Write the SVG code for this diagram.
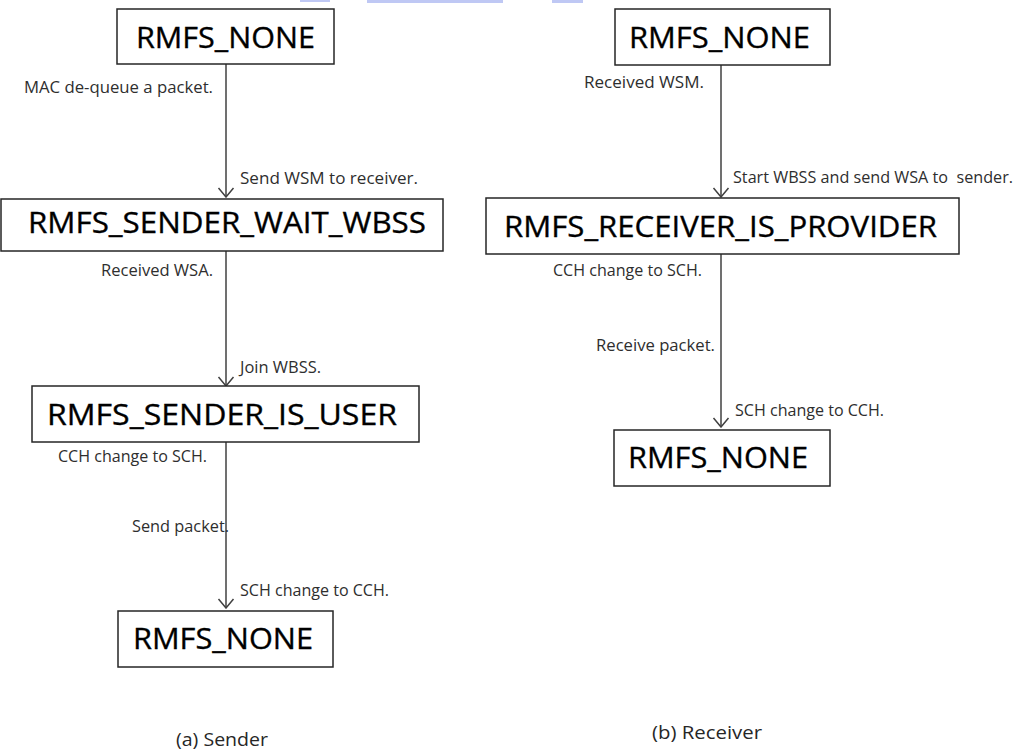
<svg xmlns="http://www.w3.org/2000/svg" width="1033" height="755" viewBox="0 0 1033 755">
  <defs>
    <style>
      .box { fill: #ffffff; stroke: #262626; stroke-width: 1.5; }
      .state { font-family: "Open Sans", "Noto Sans", sans-serif; font-size: 30px; fill: #000000; stroke: #000000; stroke-width: 0.35; }
      .edge { stroke: #404040; stroke-width: 1.5; fill: none; }
      .lbl { font-family: "Open Sans", "Noto Sans", sans-serif; font-size: 16px; fill: #2e2e2e; }
      .cap { font-family: "Open Sans", "Noto Sans", sans-serif; font-size: 19px; fill: #262626; }
      .smear { fill: #aab6f0; opacity: 0.75; }
    </style>
    <!-- open V arrowhead, pointing along the line -->
    <marker id="vhead" viewBox="0 0 20 20" refX="19" refY="10" markerWidth="20" markerHeight="20" markerUnits="userSpaceOnUse" orient="auto">
      <path d="M10 2.5 L19 10 L10 17.5" fill="none" stroke="#404040" stroke-width="1.5"/>
    </marker>
  </defs>
  <rect width="1033" height="755" fill="#ffffff"/>

  <!-- faint band along the top edge -->
  <g id="top-band">
    <rect class="smear" x="300" y="0" width="30" height="2"/>
    <rect class="smear" x="367" y="0" width="136" height="3"/>
    <rect class="smear" x="552" y="0" width="31" height="3"/>
  </g>

  <!-- transitions -->
  <g id="connectors">
    <line class="edge" x1="226" y1="64" x2="226" y2="197" marker-end="url(#vhead)"/>
    <line class="edge" x1="226" y1="251" x2="226" y2="386" marker-end="url(#vhead)"/>
    <line class="edge" x1="226" y1="442" x2="226" y2="608" marker-end="url(#vhead)"/>
    <line class="edge" x1="721" y1="65" x2="721" y2="197" marker-end="url(#vhead)"/>
    <line class="edge" x1="721" y1="254" x2="721" y2="427" marker-end="url(#vhead)"/>
  </g>

  <!-- sender states -->
  <g id="s-none-top">
    <rect class="box" x="117" y="9" width="217" height="55"/>
    <text class="state" x="136" y="48" textLength="179" lengthAdjust="spacingAndGlyphs">RMFS_NONE</text>
  </g>
  <g id="s-wait-wbss">
    <rect class="box" x="1" y="199" width="442" height="52"/>
    <text class="state" x="28" y="233" textLength="398" lengthAdjust="spacingAndGlyphs">RMFS_SENDER_WAIT_WBSS</text>
  </g>
  <g id="s-is-user">
    <rect class="box" x="32" y="386" width="387" height="56"/>
    <text class="state" x="47" y="425" textLength="350" lengthAdjust="spacingAndGlyphs">RMFS_SENDER_IS_USER</text>
  </g>
  <g id="s-none-bottom">
    <rect class="box" x="118" y="611" width="215" height="56"/>
    <text class="state" x="133" y="649" textLength="180" lengthAdjust="spacingAndGlyphs">RMFS_NONE</text>
  </g>

  <!-- receiver states -->
  <g id="r-none-top">
    <rect class="box" x="615" y="9" width="215" height="56"/>
    <text class="state" x="629" y="48" textLength="181" lengthAdjust="spacingAndGlyphs">RMFS_NONE</text>
  </g>
  <g id="r-is-provider">
    <rect class="box" x="486" y="198" width="473" height="56"/>
    <text class="state" x="504" y="237" textLength="433" lengthAdjust="spacingAndGlyphs">RMFS_RECEIVER_IS_PROVIDER</text>
  </g>
  <g id="r-none-bottom">
    <rect class="box" x="614" y="430" width="216" height="56"/>
    <text class="state" x="628" y="468" textLength="180" lengthAdjust="spacingAndGlyphs">RMFS_NONE</text>
  </g>

  <!-- transition labels -->
  <g id="labels">
    <text class="lbl" x="24" y="93" textLength="189" lengthAdjust="spacingAndGlyphs">MAC de-queue a packet.</text>
    <text class="lbl" x="240" y="184" textLength="178" lengthAdjust="spacingAndGlyphs">Send WSM to receiver.</text>
    <text class="lbl" x="101" y="276" textLength="112" lengthAdjust="spacingAndGlyphs">Received WSA.</text>
    <text class="lbl" x="240" y="373" textLength="81" lengthAdjust="spacingAndGlyphs">Join WBSS.</text>
    <text class="lbl" x="58" y="462" textLength="149" lengthAdjust="spacingAndGlyphs">CCH change to SCH.</text>
    <text class="lbl" x="132" y="532" textLength="97" lengthAdjust="spacingAndGlyphs">Send packet.</text>
    <text class="lbl" x="240" y="596" textLength="149" lengthAdjust="spacingAndGlyphs">SCH change to CCH.</text>

    <text class="lbl" x="584" y="88" textLength="120" lengthAdjust="spacingAndGlyphs">Received WSM.</text>
    <text class="lbl" x="733" y="183" textLength="280" lengthAdjust="spacingAndGlyphs" xml:space="preserve">Start WBSS and send WSA to  sender.</text>
    <text class="lbl" x="553" y="276" textLength="149" lengthAdjust="spacingAndGlyphs">CCH change to SCH.</text>
    <text class="lbl" x="596" y="351" textLength="119" lengthAdjust="spacingAndGlyphs">Receive packet.</text>
    <text class="lbl" x="735" y="416" textLength="149" lengthAdjust="spacingAndGlyphs">SCH change to CCH.</text>
  </g>

  <!-- panel captions -->
  <g id="captions">
    <text class="cap" x="176" y="746" textLength="92" lengthAdjust="spacingAndGlyphs">(a) Sender</text>
    <text class="cap" x="652" y="739" textLength="110" lengthAdjust="spacingAndGlyphs">(b) Receiver</text>
  </g>
</svg>
